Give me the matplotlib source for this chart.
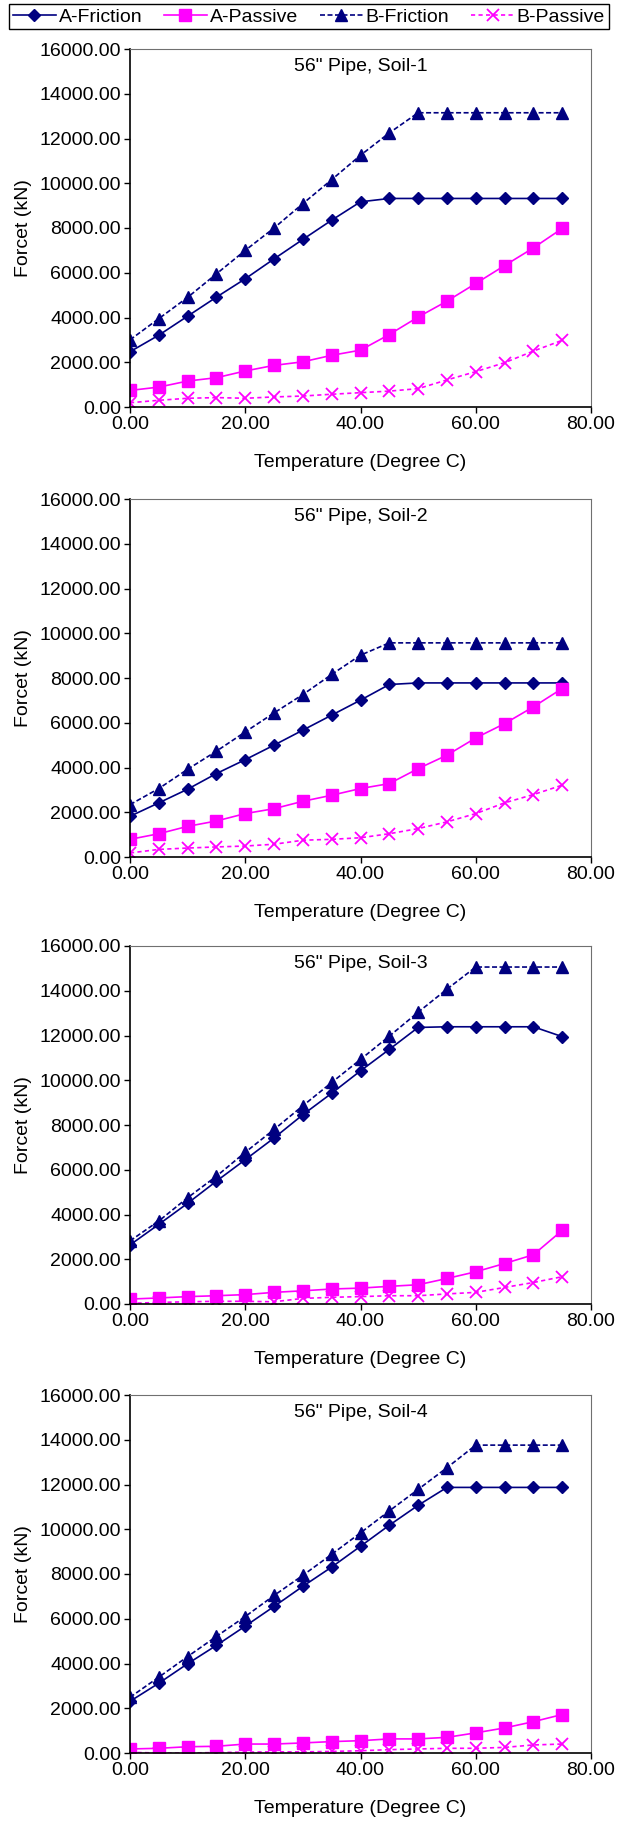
import matplotlib
matplotlib.use('Agg')
import matplotlib.pyplot as plt
from matplotlib.ticker import FormatStrFormatter, MultipleLocator

plt.rcParams['font.family'] = ['Liberation Sans', 'DejaVu Sans']
plt.rcParams['font.size'] = 14

temps = [0, 5, 10, 15, 20, 25, 30, 35, 40, 45, 50, 55, 60, 65, 70, 75]
titles = ['56" Pipe, Soil-1', '56" Pipe, Soil-2', '56" Pipe, Soil-3', '56" Pipe, Soil-4']

# forces in kN, one list per soil
a_friction = [
    [2470, 3210, 4060, 4910, 5730, 6620, 7490, 8350, 9170, 9320, 9320, 9320, 9320, 9320, 9320, 9320],
    [1820, 2420, 3030, 3730, 4350, 5000, 5670, 6340, 7010, 7710, 7780, 7780, 7780, 7780, 7780, 7780],
    [2640, 3560, 4500, 5490, 6450, 7420, 8460, 9420, 10420, 11380, 12360, 12390, 12390, 12390, 12390, 11950],
    [2310, 3120, 3990, 4810, 5670, 6550, 7450, 8310, 9240, 10180, 11070, 11870, 11870, 11870, 11870, 11870],
]
a_passive = [
    [740, 890, 1160, 1310, 1610, 1860, 2020, 2310, 2540, 3240, 4020, 4730, 5520, 6320, 7110, 7980],
    [790, 1040, 1370, 1610, 1940, 2160, 2490, 2760, 3060, 3280, 3950, 4550, 5320, 5960, 6710, 7530],
    [220, 270, 330, 370, 420, 520, 590, 670, 710, 790, 860, 1140, 1440, 1810, 2200, 3290],
    [180, 210, 280, 300, 400, 400, 450, 510, 550, 630, 630, 700, 900, 1120, 1400, 1720],
]
b_friction = [
    [3000, 3950, 4900, 5950, 7000, 8000, 9090, 10160, 11250, 12250, 13150, 13150, 13150, 13150, 13150, 13150],
    [2340, 3060, 3920, 4730, 5590, 6440, 7260, 8160, 9020, 9570, 9570, 9570, 9570, 9570, 9570, 9570],
    [2820, 3710, 4750, 5710, 6780, 7800, 8860, 9900, 10930, 11970, 13040, 14070, 15060, 15060, 15060, 15060],
    [2490, 3390, 4310, 5210, 6100, 7040, 7940, 8880, 9840, 10820, 11780, 12750, 13760, 13760, 13760, 13760],
]
b_passive = [
    [190, 300, 390, 420, 390, 450, 490, 570, 640, 710, 820, 1210, 1580, 1980, 2500, 2980],
    [180, 340, 400, 450, 490, 570, 750, 790, 860, 1040, 1270, 1570, 1940, 2420, 2790, 3210],
    [30, 70, 100, 120, 120, 100, 250, 300, 330, 370, 370, 450, 520, 740, 960, 1220],
    [30, 0, 0, 20, 40, 50, 50, 70, 100, 150, 180, 210, 210, 250, 360, 400],
]

navy = '#000080'
magenta = '#ff00ff'

W, H = 617, 1823
fig = plt.figure(figsize=(W / 100, H / 100), dpi=100)

tops = [49, 499, 946, 1395]
ax_h = 358
left, right = 130, 591

for i in range(4):
    bottom = tops[i] + ax_h
    ax = fig.add_axes([left / W, 1 - bottom / H, (right - left) / W, ax_h / H])

    ax.plot(temps, a_friction[i], color=navy, lw=1.2, marker='D', ms=6,
            label='A-Friction')
    ax.plot(temps, a_passive[i], color=magenta, lw=1.2, marker='s', ms=8.5,
            label='A-Passive')
    ax.plot(temps, b_friction[i], color=navy, lw=1.2, ls=(0, (3, 1.5)), marker='^',
            ms=8.5, label='B-Friction')
    ax.plot(temps, b_passive[i], color=magenta, lw=1.2, ls=(0, (2.5, 2)), marker='x',
            ms=8.5, mew=1.3, label='B-Passive')

    ax.set_xlim(0, 80)
    ax.set_ylim(0, 16000)
    ax.xaxis.set_major_locator(MultipleLocator(20))
    ax.yaxis.set_major_locator(MultipleLocator(2000))
    ax.xaxis.set_major_formatter(FormatStrFormatter('%.2f'))
    ax.yaxis.set_major_formatter(FormatStrFormatter('%.2f'))
    ax.tick_params(direction='out', length=4, width=1, pad=2.5)
    for s in ['top', 'right']:
        ax.spines[s].set_color('#707070')
    for s in ['left', 'bottom']:
        ax.spines[s].set_color('black')
        ax.spines[s].set_linewidth(1.2)

    ax.text(0.5, 0.95, titles[i], transform=ax.transAxes, ha='center', va='center')
    ax.set_xlabel('Temperature (Degree C)', labelpad=15)
    ax.set_ylabel('Forcet (kN)', labelpad=5)

    if i == 0:
        handles, labels = ax.get_legend_handles_labels()

fig.legend(handles, labels, loc='upper left', ncol=4, mode='expand',
           bbox_to_anchor=(9 / W, 1 - 38 / H, 600 / W, 34 / H),
           frameon=True, fancybox=False, edgecolor='black', framealpha=1,
           handlelength=2.2, handletextpad=0.15, columnspacing=1.0,
           borderpad=0.2, borderaxespad=0)

fig.savefig('out.png', dpi=100)
